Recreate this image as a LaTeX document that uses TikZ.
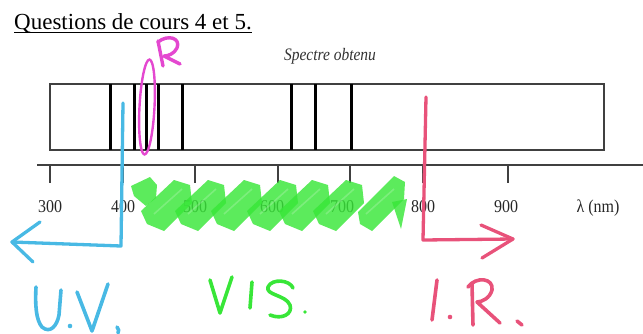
\documentclass[tikz,border=0pt]{standalone}
\usepackage{graphicx}
\usepackage{fontspec}
\setmainfont{Liberation Serif}
\definecolor{uvblue}{RGB}{72,185,228}
\definecolor{irred}{RGB}{232,82,122}
\definecolor{visgreen}{RGB}{56,230,56}
\definecolor{penmag}{RGB}{228,72,208}
\newcommand{\tall}[1]{\scalebox{1}[1.13]{#1}}
\begin{document}
\begin{tikzpicture}[x=1pt,y=-1pt,
  pen/.style={line width=3.6pt,line cap=round,line join=round},
  frame/.style={line width=1.1pt,draw=black!75},
  specline/.style={line width=3pt,black},
  tick/.style={line width=1.1pt,black!75},
  ticklab/.style={anchor=base,font=\fontsize{16}{16}\selectfont,text=black!85,inner sep=0pt},
  hl/.style={fill=visgreen,fill opacity=0.82}]
\useasboundingbox (0,0) rectangle (643,333);

% heading
\node[anchor=base west,inner sep=0pt,font=\fontsize{23}{23}\selectfont] (title) at (14,29) {Questions de cours 4 et 5.};
\draw[line width=0.9pt] ([yshift=-3.2pt]title.base west) -- ([yshift=-3.2pt]title.base east);

\node[anchor=base,inner sep=0pt,font=\fontsize{15.5}{16}\selectfont\itshape,text=black!80] (cap) at (330,60) {\tall{Spectre obtenu}};

% spectrum strip with its lines
\draw[frame] (50,84) rectangle (604,150);
\foreach \x in {110,134,146,158,182,291,315,351}
  \draw[specline] (\x,84) -- (\x,150);

% wavelength axis
\coordinate (axl) at (37,165);
\coordinate (axr) at (643,165);
\draw[tick] (axl) -- (axr);
\foreach \x/\t/\lx in {50/300/50,123/400/123,195/500/195,278/600/272,350/700/342,423/800/423,508/900/506}{
  \draw[tick] (\x,165) -- (\x,183);
  \node[ticklab] at (\lx,212) {\tall{\t}};
}
\node[ticklab] (unit) at (598,212) {\tall{λ (nm)}};

% green highlighter band: overlapping chisel-tip strokes
\fill[hl] (131,186) -- (150,177) -- (157,185) -- (156,198) -- (146,206) -- (134,196) -- cycle;
\foreach \x in {188,222,258,294,326,360}
  \fill[hl] (\x-47,211) -- (\x-14,180) -- (\x+2,185) -- (\x+4,203) -- (\x-24,231) -- (\x-41,224) -- cycle;
\fill[hl] (358,212) -- (394,176) -- (405,182) -- (404,199) -- (372,231) -- (360,224) -- cycle;
\fill[hl] (392,202) -- (407,199) -- (401,229) -- cycle;
% lighter streaks of the marker
\foreach \x in {188,222,258,294,326,360,400}
  \draw[white,opacity=0.2,line width=1.6pt] (\x-34,214) -- (\x-6,189);

% magenta mark around one line
\draw[penmag,line width=2.4pt,rotate around={-3:(147,107)}] (147,107) ellipse [x radius=7.5,y radius=47.5];
\draw[penmag,pen,line width=3.4pt] (163,66) -- (158,41);
\draw[penmag,pen,line width=3.4pt] (158,42) .. controls (168,34) and (181,38) .. (177,48)
  .. controls (174,54) and (168,56) .. (164,56) -- (180,64);

% UV arrow
\coordinate (uvtop) at (123,103);
\coordinate (uvcorner) at (121,246);
\coordinate (uvend) at (12,242);
\draw[uvblue,pen,line width=3.3pt] (uvtop) -- (uvcorner) -- (uvend);
\draw[uvblue,pen,line width=3.3pt] (40,222) -- (uvend) -- (33,262);

% IR arrow
\coordinate (irtop) at (426,97);
\coordinate (ircorner) at (423,240);
\coordinate (irend) at (513,239);
\draw[irred,pen,line width=3.3pt] (irtop) -- (ircorner) -- (irend);
\draw[irred,pen,line width=3.3pt] (481,225) -- (irend) -- (482,258);

% U.V.
\begin{scope}[uvblue,pen]
  \draw (36,287) .. controls (35,305) and (36,320) .. (42,327) .. controls (50,334) and (57,326) .. (59,315) -- (61,290);
  \fill (70,326) circle (2.3);
  \draw (77,292) -- (92,331) -- (108,284);
  \draw (117,327) .. controls (119,329) and (119,331) .. (118,333);
\end{scope}

% VIS.
\begin{scope}[visgreen,pen]
  \draw (210,280) -- (220,313) -- (232,277);
  \draw (252,282) -- (250,308);
  \draw (293,288) .. controls (290,280) and (272,278) .. (268,287)
    .. controls (265,295) and (286,295) .. (290,305)
    .. controls (293,314) and (282,320) .. (270,315);
  \fill (305,312) circle (1.8);
\end{scope}

% I.R.
\begin{scope}[irred,pen]
  \draw (437,280) -- (432,320);
  \fill (450,317) circle (2.3);
  \draw (472,284) -- (473,325);
  \draw (468,287) .. controls (476,276) and (494,278) .. (492,290)
    .. controls (490,298) and (482,302) .. (477,302) -- (500,323);
  \draw (517,321) -- (522,325);
\end{scope}
\end{tikzpicture}
\end{document}
